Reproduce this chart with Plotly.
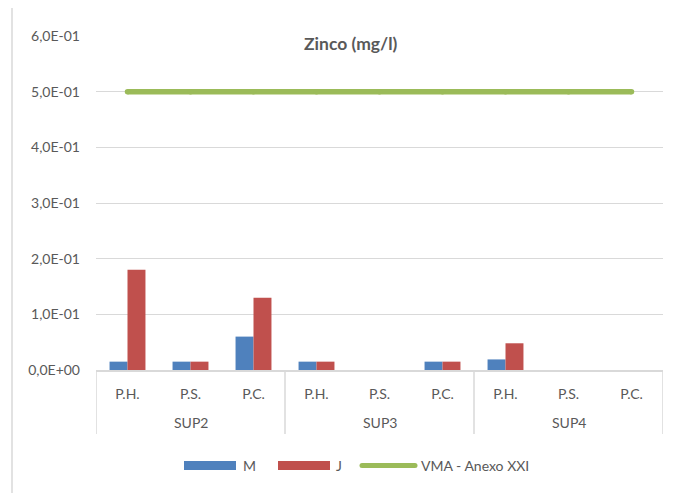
import plotly.graph_objects as go

groups = ["SUP2", "SUP2", "SUP2", "SUP3", "SUP3", "SUP3", "SUP4", "SUP4", "SUP4"]
points = ["P.H.", "P.S.", "P.C.", "P.H.", "P.S.", "P.C.", "P.H.", "P.S.", "P.C."]
series_names = ["M", "J", "VMA - Anexo XXI"]
m_vals = [0.015, 0.015, 0.06, 0.015, None, 0.015, 0.019, None, None]
j_vals = [0.18, 0.015, 0.13, 0.015, None, 0.015, 0.048, None, None]
vma_vals = [0.5, 0.5, 0.5, 0.5, 0.5, 0.5, 0.5, 0.5, 0.5]
y_ticks = [0.0, 0.1, 0.2, 0.3, 0.4, 0.5, 0.6]
y_ticktext = ["0,0E+00", "1,0E-01", "2,0E-01", "3,0E-01", "4,0E-01", "5,0E-01", "6,0E-01"]

BLUE = "#4F81BD"
RED = "#C0504D"
GREEN = "#9BBB59"
GRID = "#D9D9D9"
TXT = "#595959"
FONT = "Lato"
FS = 14

xi = list(range(len(points)))

fig = go.Figure()
fig.add_trace(go.Bar(x=xi, y=m_vals, name=series_names[0],
                     marker=dict(color=BLUE, line=dict(width=0))))
fig.add_trace(go.Bar(x=xi, y=j_vals, name=series_names[1],
                     marker=dict(color=RED, line=dict(width=0))))
fig.add_trace(go.Scatter(x=xi, y=vma_vals, name=series_names[2], mode="lines+markers",
                         line=dict(color=GREEN, width=5.5),
                         marker=dict(color=GREEN, size=5.5, line=dict(width=0))))

OFF = 8  # page body margin
W, H = 679 - OFF, 493 - OFF
L, R, T = 96 - OFF, 679 - 663, 36 - OFF
B = 493 - 370
pw, ph = W - L - R, H - T - B

def px_x(p):
    return (p - OFF - L) / pw

def px_y(p):
    return (H - B - (p - OFF)) / ph

annotations = []
shapes = []

# group labels and dividers
group_names = []
for g in groups:
    if g not in group_names:
        group_names.append(g)
bounds = [-0.5]
for g in group_names:
    idx = [i for i, gg in enumerate(groups) if gg == g]
    annotations.append(dict(text=g, xref="x", yref="paper", x=sum(idx) / len(idx),
                            y=px_y(422), xanchor="center", yanchor="middle", showarrow=False,
                            font=dict(family=FONT, size=FS, color=TXT)))
    bounds.append(idx[-1] + 0.5)
for b in bounds:
    shapes.append(dict(type="line", xref="x", yref="paper", x0=b, x1=b,
                       y0=px_y(370), y1=px_y(434), line=dict(color=GRID, width=1.5)))

# outer chart border
shapes.append(dict(type="rect", xref="paper", yref="paper",
                   x0=px_x(12), x1=px_x(720), y0=px_y(540), y1=px_y(7),
                   line=dict(color=GRID, width=1.5), fillcolor="rgba(0,0,0,0)", layer="below"))

# legend (drawn to match the wide Excel-style keys)
leg_y = 465.5
leg_items = [
    (series_names[0], BLUE, "rect", 184, 236, 241),
    (series_names[1], RED, "rect", 278, 330, 334),
    (series_names[2], GREEN, "line", 362, 415, 419),
]
for name, col, kind, x0, x1, tx in leg_items:
    if kind == "rect":
        shapes.append(dict(type="rect", xref="paper", yref="paper",
                           x0=px_x(x0), x1=px_x(x1), y0=px_y(leg_y + 4.5), y1=px_y(leg_y - 4.5),
                           line=dict(width=0), fillcolor=col))
    else:
        shapes.append(dict(type="line", xref="paper", yref="paper",
                           x0=px_x(x0), x1=px_x(x1), y0=px_y(leg_y), y1=px_y(leg_y),
                           line=dict(color=col, width=5)))
        for ex in (x0, x1):
            shapes.append(dict(type="circle", xref="paper", yref="paper",
                               x0=px_x(ex - 2.5), x1=px_x(ex + 2.5),
                               y0=px_y(leg_y + 2.5), y1=px_y(leg_y - 2.5),
                               line=dict(width=0), fillcolor=col))
    annotations.append(dict(text=name, xref="paper", yref="paper", x=px_x(tx), y=px_y(leg_y),
                            xanchor="left", yanchor="middle", showarrow=False,
                            font=dict(family=FONT, size=FS, color=TXT)))

annotations.append(dict(text="<b>Zinco (mg/l)</b>", xref="paper", yref="paper",
                        x=px_x(350.5), y=px_y(43), xanchor="center", yanchor="middle",
                        showarrow=False, bgcolor="white", borderpad=1,
                        font=dict(family=FONT, size=17.5, color=TXT)))

fig.update_layout(
    width=W, height=H,
    margin=dict(l=L, r=R, t=T, b=B, pad=0),
    paper_bgcolor="white", plot_bgcolor="white",
    barmode="group", bargap=0.43, bargroupgap=0,
    font=dict(family=FONT, size=FS, color=TXT),
    showlegend=False,
    xaxis=dict(range=[-0.5, len(points) - 0.5], tickvals=xi, ticktext=points,
               showgrid=False, zeroline=False, showline=True, linecolor=GRID,
               linewidth=1.5, ticks="", ticklabelstandoff=10,
               tickfont=dict(family=FONT, size=FS, color=TXT)),
    yaxis=dict(range=[0, 0.6], tickvals=y_ticks, ticktext=y_ticktext, showgrid=True,
               gridcolor=GRID, gridwidth=1, zeroline=False, showline=False,
               ticks="", ticklabelstandoff=15,
               tickfont=dict(family=FONT, size=FS, color=TXT)),
    shapes=shapes,
    annotations=annotations,
)

fig.write_html("out.html")
